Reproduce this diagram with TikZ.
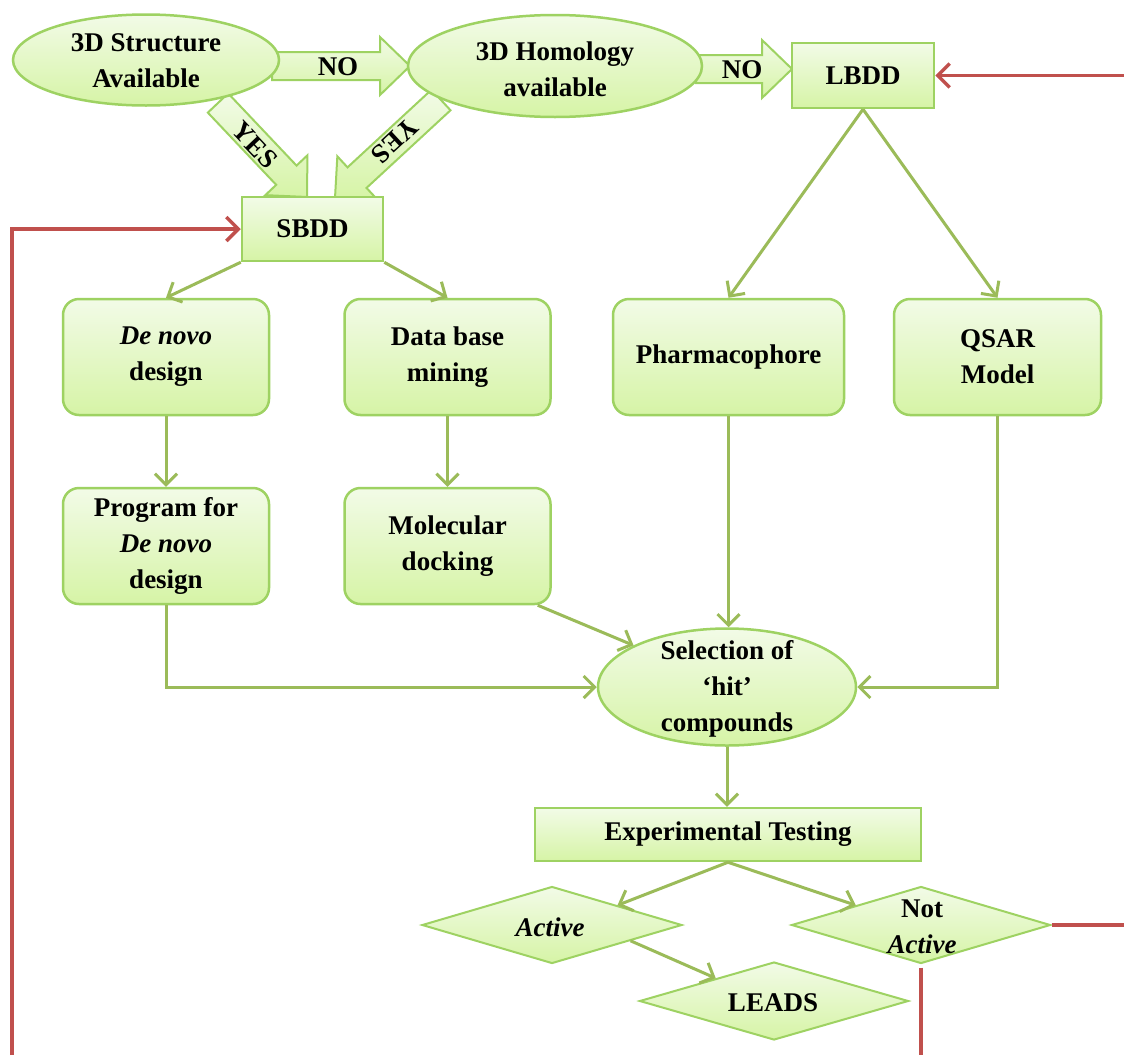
\documentclass[tikz,border=0pt]{standalone}
\usepackage{fontspec}
\setmainfont{Liberation Serif}
\usetikzlibrary{shapes.geometric,arrows.meta,calc}
\definecolor{gtop}{RGB}{242,251,231}
\definecolor{gbot}{RGB}{214,244,166}
\definecolor{gborder}{RGB}{158,210,98}
\definecolor{gline}{RGB}{155,187,89}
\definecolor{rline}{RGB}{192,80,77}
\newcommand\blkarrow[2]{%
  \coordinate (#1h) at ($(#2)!30pt!(#1)$);
  \path[blk] ($(#1)!14pt!90:(#2)$) -- ($(#1h)!14pt!90:(#2)$) -- ($(#1h)!29pt!90:(#2)$) -- (#2)
    -- ($(#1h)!29pt!-90:(#2)$) -- ($(#1h)!14pt!-90:(#2)$) -- ($(#1)!14pt!-90:(#2)$) -- cycle;}
\begin{document}
\begin{tikzpicture}[x=1pt,y=-1pt,
  every node/.style={font=\fontsize{27}{36}\selectfont\bfseries},
  shade/.style={top color=gtop, bottom color=gbot},
  box/.style={rectangle, draw=gborder, line width=2.5pt, shade, align=center, inner sep=0pt},
  rbox/.style={box, rounded corners=16pt, minimum width=206pt, minimum height=116pt},
  ell/.style={ellipse, draw=gborder, line width=2.5pt, shade, inner sep=0pt},
  dia/.style={diamond, draw=gborder, line width=2pt, shade, inner sep=0pt, aspect=3.4},
  lbl/.style={align=center, inner sep=0pt},
  blk/.style={draw=gborder, line width=2pt, shade},
  con/.style={draw=gline, line width=3pt, -{Straight Barb[length=11pt,width=22pt]}},
  rcon/.style={draw=rline, line width=3.5pt},
  rarr/.style={rcon, -{Straight Barb[length=12pt,width=24pt]}}]
\fill[white] (0,0) rectangle (1124,1055);
\useasboundingbox (0,0) rectangle (1124,1055);

% block arrows
\coordinate (n1a) at (272,66); \coordinate (n1b) at (410,66);
\coordinate (n2a) at (696,69); \coordinate (n2b) at (792,69);
\coordinate (y1a) at (218,103); \coordinate (y1b) at (307,197);
\coordinate (y2a) at (441,100); \coordinate (y2b) at (335,198);
\blkarrow{n1a}{n1b}
\blkarrow{n2a}{n2b}
\blkarrow{y1a}{y1b}
\blkarrow{y2a}{y2b}

% top shapes
\node[ell, minimum width=266pt, minimum height=91pt] (s3d) at (146,60) {};
\node[lbl] (s3dT) at (146,61) {3D Structure\\Available};
\node[ell, minimum width=294pt, minimum height=102pt] (h3d) at (555,66) {};
\node[lbl] (h3dT) at (555,69) {3D Homology\\available};
\node[box, minimum width=142pt, minimum height=65pt] (lbdd) at (863,75.5) {LBDD};
\node[box, minimum width=141pt, minimum height=64pt] (sbdd) at (312.5,229) {SBDD};

\node[lbl] (no1) at (338,67) {NO};
\node[lbl] (no2) at (742,70) {NO};
\node[lbl, rotate=-46.6] (yes1) at (255,145) {YES};
\node[lbl, rotate=-137.2] (yes2) at (395,141) {YES};

% middle boxes
\node[rbox] (denovo) at (166,357) {\textit{De novo}\\design};
\node[rbox] (db) at (447.5,357) {Data base\\mining};
\node[rbox, minimum width=231pt] (pharma) at (728.5,357) {Pharmacophore};
\node[rbox, minimum width=207pt] (qsar) at (997.5,357) {QSAR\\Model};
\node[rbox] (prog) at (166,546) {Program for\\\textit{De novo}\\design};
\node[rbox] (mol) at (447.5,546) {Molecular\\docking};

\node[ell, minimum width=258pt, minimum height=117pt] (sel) at (727,687) {};
\node[lbl] (selT) at (727,689) {Selection of\\`hit'\\compounds};

\node[box, minimum width=386pt, minimum height=53pt] (exp) at (728,834.5) {Experimental Testing};

\node[dia, minimum width=260pt, minimum height=77pt] (act) at (552,925) {};
\node[lbl] (actT) at (550,927) {\textit{Active}};
\node[dia, minimum width=259pt, minimum height=77pt] (nact) at (921,925) {};
\node[lbl] (nactT) at (922,927) {Not\\\textit{Active}};
\node[dia, minimum width=269pt, minimum height=78pt] (leads) at (774,1001) {};
\node[lbl] (leadsT) at (773,1003) {LEADS};

% green connectors
\draw[con] (sbdd.south west) -- (denovo.north);
\draw[con] (sbdd.south east) -- (db.north);
\draw[con] (lbdd.south) -- (pharma.north);
\draw[con] (lbdd.south) -- (qsar.north);
\draw[con] (denovo.south) -- (prog.north);
\draw[con] (db.south) -- (mol.north);
\draw[con] (prog.south) |- (sel.west);
\draw[con] ($(mol.south east)+(-14,0)$) -- (sel.156);
\draw[con] (pharma.south) -- (pharma.south |- sel.north);
\draw[con] (qsar.south) |- (sel.east);
\draw[con] (sel.south) -- (sel.south |- exp.north);
\draw[con] (exp.south) -- ($(act.north)!0.5!(act.east)$);
\draw[con] (exp.south) -- ($(nact.north)!0.5!(nact.west)$);
\draw[con] ($(act.east)!0.4!(act.south)$) -- ($(leads.west)!0.57!(leads.north)$);

% red feedback lines
\coordinate (rt) at (lbdd.east -| 1124,0);
\coordinate (rm) at (nact.east -| 1124,0);
\coordinate (rb) at (nact.south |- 0,1055);
\coordinate (lb) at (12,1055);
\draw[rarr] (rt) -- (lbdd.east);
\draw[rcon] (nact.east) -- (rm);
\draw[rcon] ($(nact.south)+(0,3)$) -- (rb);
\draw[rarr] (lb) |- (sbdd.west);
\end{tikzpicture}
\end{document}
